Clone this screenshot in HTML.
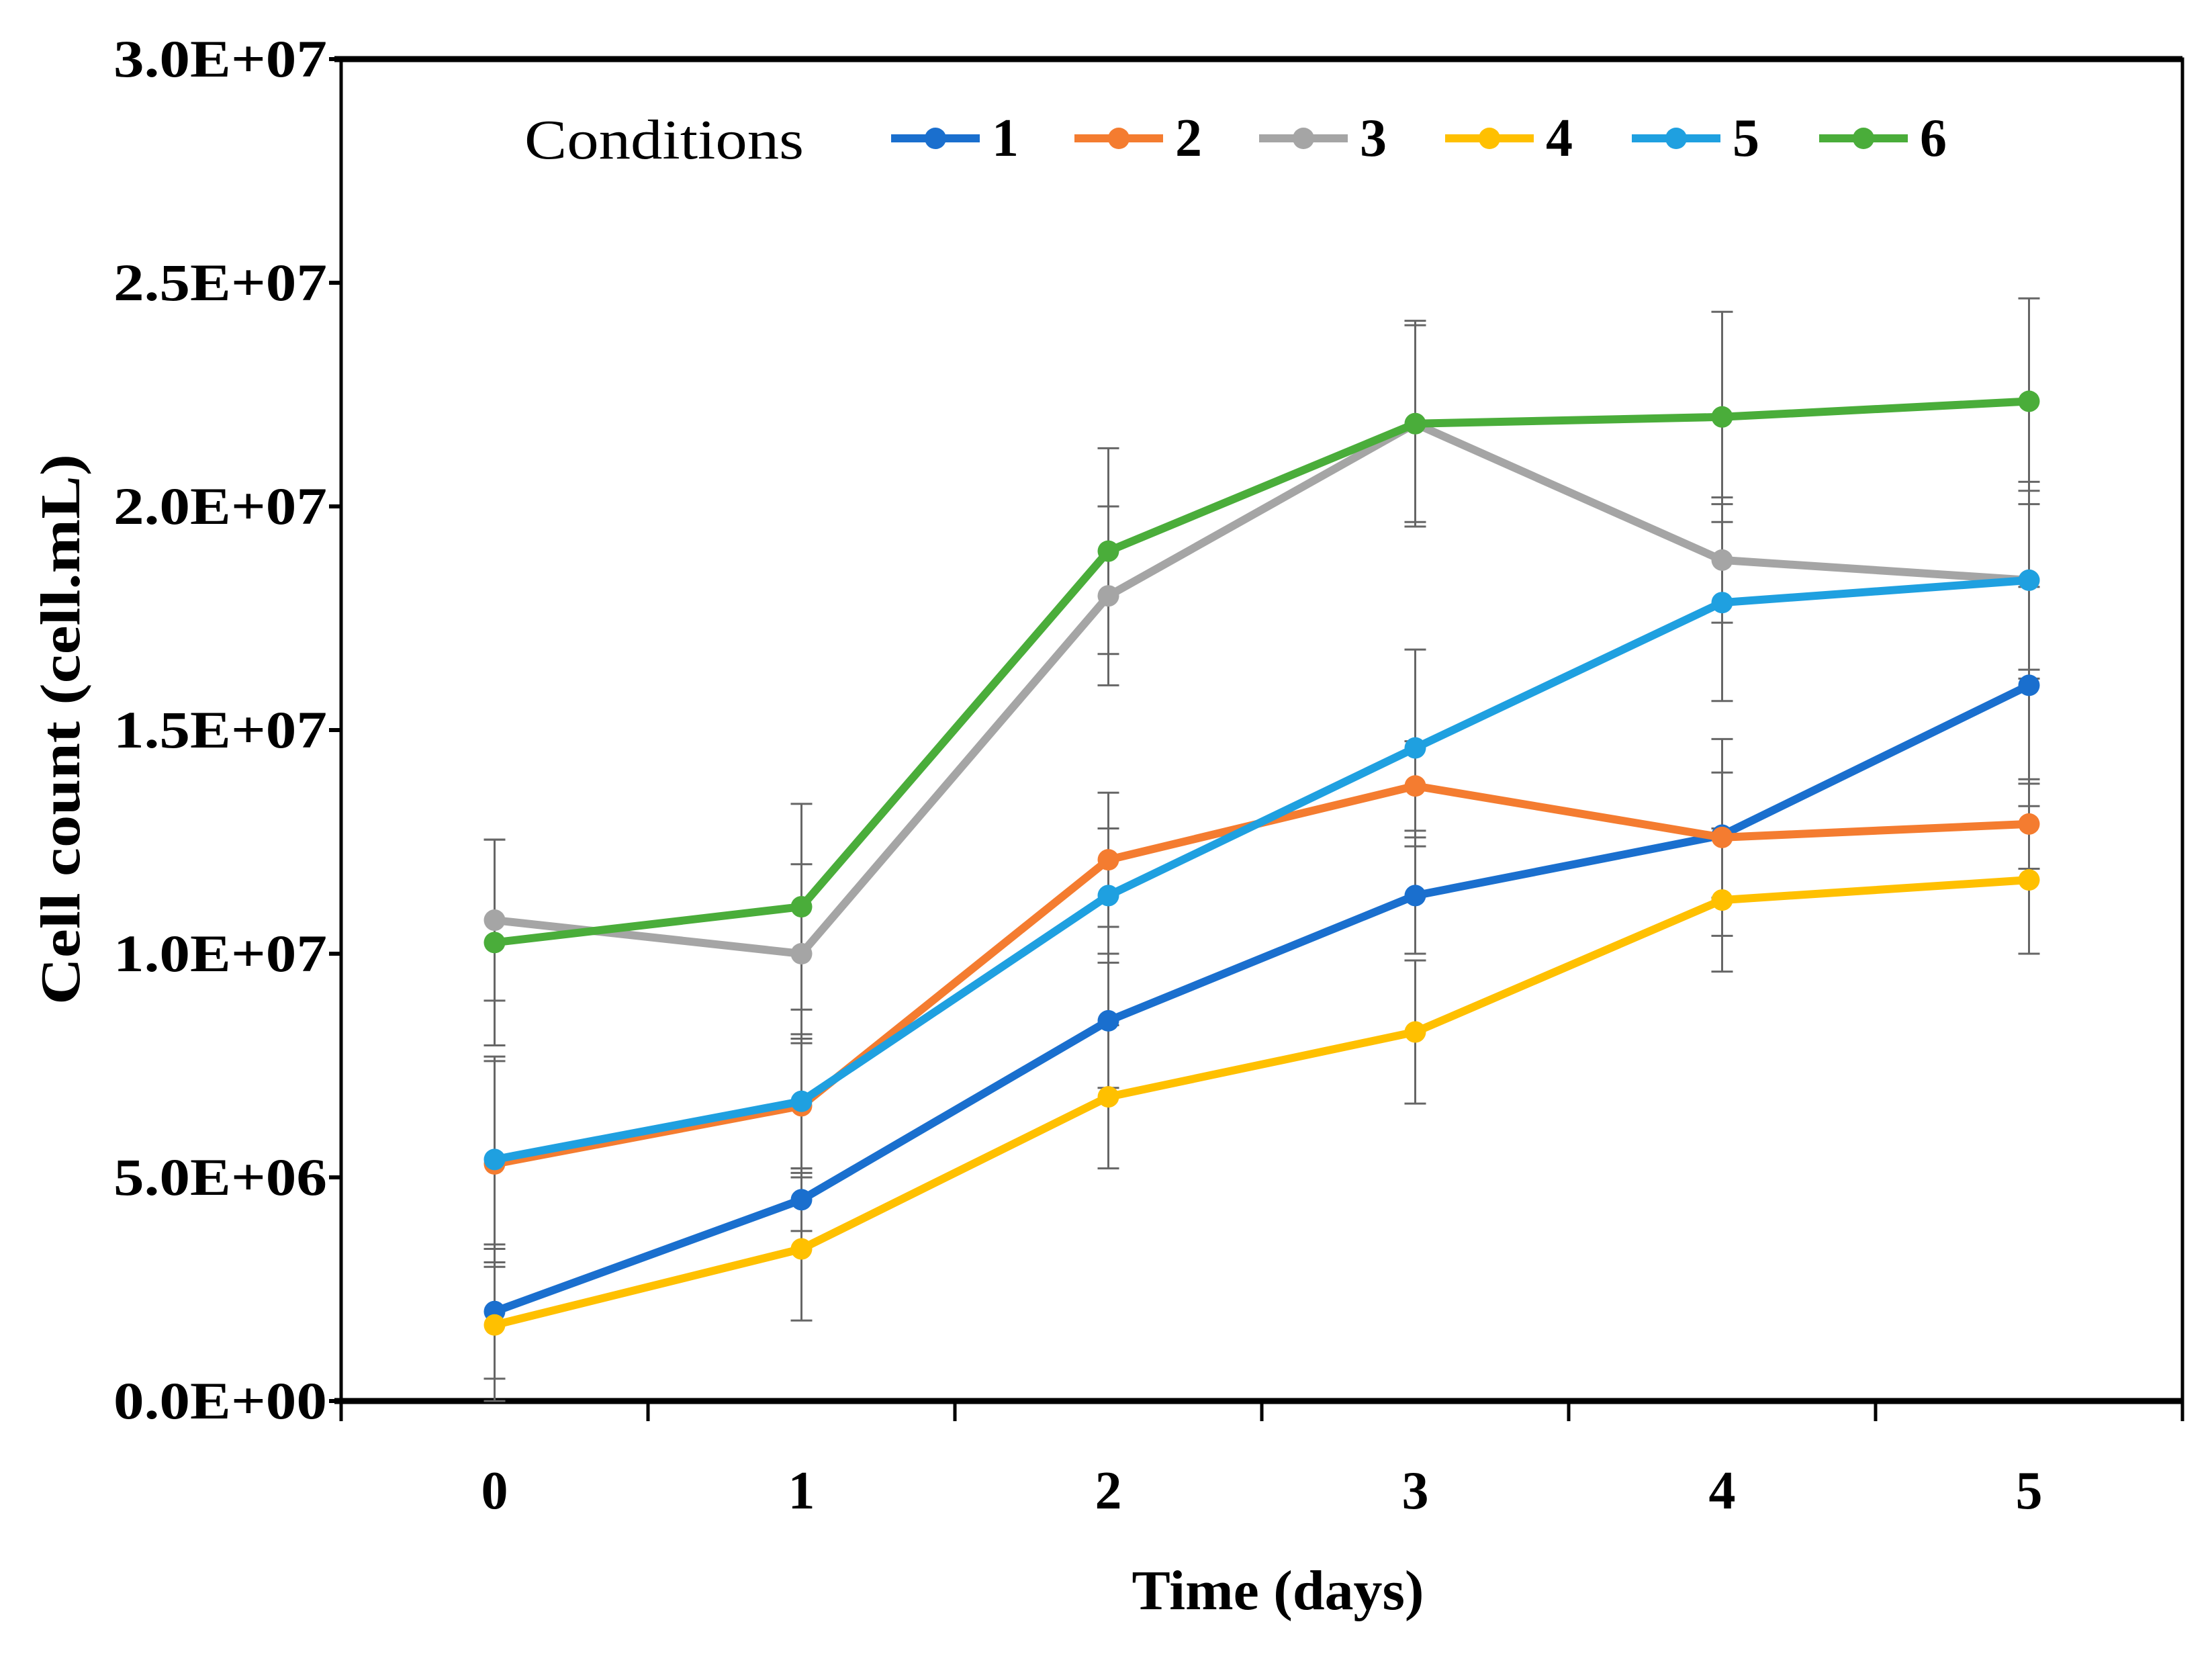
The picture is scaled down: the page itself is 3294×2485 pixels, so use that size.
<!DOCTYPE html>
<html><head><meta charset="utf-8"><style>
html,body{margin:0;padding:0;background:#fff;}
svg{display:block;}
text{font-family:"Liberation Serif",serif;fill:#000;}
</style></head><body>
<svg id="chart" width="3294" height="2485" viewBox="0 0 3294 2485" xmlns="http://www.w3.org/2000/svg"></svg>
<script>
const categories = [0,1,2,3,4,5];
const yTicks = [0,5e6,1e7,1.5e7,2e7,2.5e7,3e7];
const yTickLabels = ["0.0E+00","5.0E+06","1.0E+07","1.5E+07","2.0E+07","2.5E+07","3.0E+07"];
const seriesNames = ["1","2","3","4","5","6"];
const s1 = [2.0,4.5,8.5,11.3,12.65,16.0];
const s2 = [5.3,6.6,12.1,13.75,12.6,12.9];
const s3 = [10.75,10.0,18.0,21.85,18.8,18.35];
const s4 = [1.7,3.4,6.8,8.25,11.2,11.65];
const s5 = [5.4,6.7,11.3,14.6,17.85,18.35];
const s6 = [10.25,11.05,19.0,21.85,22.0,22.35];
const e1 = [1.5,0.7,1.5,1.3,1.4,2.2];
const e2 = [2.3,1.5,1.5,1.0,2.2,1.0];
const e3 = [1.8,2.0,2.0,2.3,1.4,2.2];
const e4 = [1.7,1.6,1.6,1.6,1.6,1.65];
const e5 = [2.3,1.5,1.5,2.2,2.2,2.0];
const e6 = [2.3,2.3,2.3,2.2,2.35,2.3];
const colors = ["#1a6fce","#f47c30","#a5a5a5","#ffc000","#1fa0e0","#4aad3a"];
const values = [s1,s2,s3,s4,s5,s6];
const errors = [e1,e2,e3,e4,e5,e6];

const L=508,R=3250,T=88,B=2086;
const yMax=3e7;
function yScale(v){return B-(v/yMax)*(B-T);}
function xScale(i){return L+(R-L)/categories.length*(i+0.5);}
const NS="http://www.w3.org/2000/svg";
const svg=document.getElementById('chart');
function mk(tag,attrs,parent){const e=document.createElementNS(NS,tag);for(const k in attrs)e.setAttribute(k,attrs[k]);(parent||svg).appendChild(e);return e;}

yTicks.forEach((t,i)=>{
  const y=yScale(t);
  const tk=mk('line',{x1:L-18,x2:L,y1:y,y2:y,stroke:'#000','stroke-width':6});
  
  
  const tx=mk('text',{x:487,y:y+26,'text-anchor':'end','font-size':78,'font-weight':'bold','textLength':318,'lengthAdjust':'spacingAndGlyphs'});
  tx.textContent=yTickLabels[i];
  
  
});
for(let i=0;i<=categories.length;i++){
  const x=L+(R-L)/categories.length*i;
  const tk=mk('line',{x1:x,x2:x,y1:B,y2:B+30,stroke:'#000','stroke-width':5});
  
  
}
categories.forEach((c,i)=>{
  const tx=mk('text',{x:xScale(i),y:2246,'text-anchor':'middle','font-size':80,'font-weight':'bold'});
  tx.textContent=c;
  
  
});
const fr=mk('rect',{x:L,y:T,width:R-L,height:B-T,fill:'none',stroke:'#000','stroke-width':5});


const topLine=mk('line',{x1:L-10,x2:R,y1:T,y2:T,stroke:'#000','stroke-width':9});


const botLine=mk('line',{x1:L-10,x2:R,y1:B,y2:B,stroke:'#000','stroke-width':9});



values.forEach((s,si)=>{
  s.forEach((v,i)=>{
    const x=xScale(i),y1=yScale(Math.max(0,(v-errors[si][i])*1e6)),y2=yScale((v+errors[si][i])*1e6);
    const g=mk('g',{stroke:'#666','stroke-width':3});
    
    
    mk('line',{x1:x,x2:x,y1:y1,y2:y2},g);
    mk('line',{x1:x-16,x2:x+16,y1:y1,y2:y1},g);
    mk('line',{x1:x-16,x2:x+16,y1:y2,y2:y2},g);
  });
});
values.forEach((s,si)=>{
  const g=mk('g',{});
  
  
  const pts=s.map((v,i)=>xScale(i)+','+yScale(v*1e6)).join(' ');
  mk('polyline',{points:pts,fill:'none',stroke:colors[si],'stroke-width':12,'stroke-linejoin':'round'},g);
  s.forEach((v,i)=>{
    const c=mk('circle',{cx:xScale(i),cy:yScale(v*1e6),r:16,fill:colors[si]},g);
    
    
  });
});

const lg=mk('g',{});


const lt=mk('text',{x:781,y:236,'font-size':84,'textLength':416,'lengthAdjust':'spacingAndGlyphs'},lg);
lt.textContent='Conditions';


const legX=[1327,1600,1875,2152,2430,2709];
seriesNames.forEach((n,si)=>{
  const g=mk('g',{},lg);
  
  
  const x=legX[si],y=206;
  mk('line',{x1:x,x2:x+132,y1:y,y2:y,stroke:colors[si],'stroke-width':12},g);
  mk('circle',{cx:x+66,cy:y,r:16,fill:colors[si]},g);
  const t=mk('text',{x:x+150,y:y+26,'font-size':80,'font-weight':'bold'},g);
  t.textContent=n;
});

const xt=mk('text',{x:1903,y:2396,'text-anchor':'middle','font-size':84,'font-weight':'bold','textLength':435,'lengthAdjust':'spacingAndGlyphs'});
xt.textContent='Time (days)';


const yt=mk('text',{x:0,y:0,'text-anchor':'middle','font-size':84,'font-weight':'bold','textLength':820,'lengthAdjust':'spacingAndGlyphs',transform:'translate(118,1086) rotate(-90)'});
yt.textContent='Cell count (cell.mL)';


</script>
</body></html>
